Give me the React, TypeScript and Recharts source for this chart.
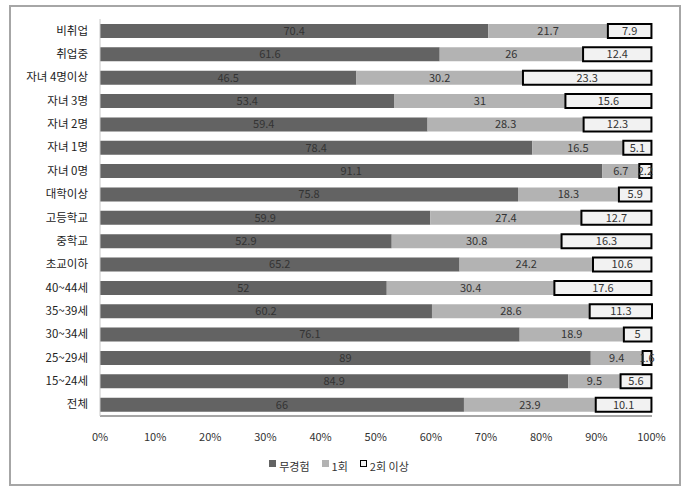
import { BarChart, Bar, XAxis, YAxis, LabelList } from "recharts";

const CATEGORIES = [
    "비취업",
    "취업중",
    "자녀 4명이상",
    "자녀 3명",
    "자녀 2명",
    "자녀 1명",
    "자녀 0명",
    "대학이상",
    "고등학교",
    "중학교",
    "초교이하",
    "40~44세",
    "35~39세",
    "30~34세",
    "25~29세",
    "15~24세",
    "전체",
];

const NONE = [70.4, 61.6, 46.5, 53.4, 59.4, 78.4, 91.1, 75.8, 59.9, 52.9, 65.2, 52, 60.2, 76.1, 89, 84.9, 66];
const ONCE = [21.7, 26, 30.2, 31, 28.3, 16.5, 6.7, 18.3, 27.4, 30.8, 24.2, 30.4, 28.6, 18.9, 9.4, 9.5, 23.9];
const TWICE_PLUS = [7.9, 12.4, 23.3, 15.6, 12.3, 5.1, 2.2, 5.9, 12.7, 16.3, 10.6, 17.6, 11.3, 5, 1.6, 5.6, 10.1];

const TICKS = [0, 10, 20, 30, 40, 50, 60, 70, 80, 90, 100];

const SERIES = [
    { key: "none", name: "무경험", fill: "#636363", stroke: "none" },
    { key: "once", name: "1회", fill: "#b3b3b3", stroke: "none" },
    { key: "twice", name: "2회 이상", fill: "#f2f2f2", stroke: "#000000" },
];

const data = CATEGORIES.map((name, i) => ({
    name,
    none: NONE[i],
    once: ONCE[i],
    twice: TWICE_PLUS[i],
}));

const FONT = "'Noto Sans CJK KR', 'Noto Sans', sans-serif";

// single-line category label (default tick wraps long names)
function CategoryTick(props: any) {
    const { x, y, payload } = props;
    return (
        <text
            x={x}
            y={y}
            dy="0.35em"
            textAnchor="end"
            fill="#222"
            fontSize={11.5}
            fontFamily={FONT}
        >
            {payload.value}
        </text>
    );
}

function LegendBox() {
    return (
        <div
            style={{
                position: "absolute",
                left: 0,
                top: 458,
                width: 690,
                display: "flex",
                justifyContent: "center",
                alignItems: "center",
                fontFamily: FONT,
                fontSize: 11,
                color: "#333",
            }}
        >
            {SERIES.map((s) => (
                <span
                    key={s.key}
                    style={{ display: "flex", alignItems: "center", marginRight: 12 }}
                >
                    <span
                        style={{
                            display: "inline-block",
                            width: s.stroke === "none" ? 7 : 5,
                            height: s.stroke === "none" ? 7 : 5,
                            background: s.fill,
                            border: s.stroke === "none" ? "none" : "1.5px solid #000",
                            marginRight: 3,
                            marginTop: -6,
                        }}
                    />
                    {s.name}
                </span>
            ))}
        </div>
    );
}

export default function App() {
    return (
        <div style={{ position: "absolute", left: 0, top: 0, width: 690, height: 491, background: "#fff" }}>
            <div
                style={{
                    position: "absolute",
                    left: 9,
                    top: 5,
                    width: 668,
                    height: 477,
                    border: "2px solid #a6a6a6",
                    pointerEvents: "none",
                }}
            />
            <BarChart
                width={690}
                height={491}
                data={data}
                layout="vertical"
                margin={{ top: 19, right: 38, bottom: 45, left: 10 }}
                barSize={14}
            >
                <XAxis
                    type="number"
                    domain={[0, 100]}
                    ticks={TICKS}
                    tickFormatter={(v) => `${v}%`}
                    tickLine={false}
                    tickSize={0}
                    tickMargin={17}
                    axisLine={{ stroke: "#a6a6a6", strokeWidth: 2 }}
                    tick={{ fill: "#333", fontSize: 11, fontFamily: FONT }}
                    height={30}
                    interval={0}
                />
                <YAxis
                    type="category"
                    dataKey="name"
                    width={90}
                    tickLine={false}
                    tickSize={0}
                    tickMargin={12}
                    axisLine={{ stroke: "#c8c8c8", strokeWidth: 1 }}
                    tick={<CategoryTick />}
                    interval={0}
                />
                {SERIES.map((s) => (
                    <Bar
                        key={s.key}
                        dataKey={s.key}
                        name={s.name}
                        stackId="a"
                        fill={s.fill}
                        stroke={s.stroke}
                        strokeWidth={s.stroke === "none" ? 0 : 2}
                        isAnimationActive={false}
                    >
                        <LabelList
                            dataKey={s.key}
                            position="center"
                            fill="#333"
                            fontSize={11}
                            fontFamily={FONT}
                        />
                    </Bar>
                ))}
            </BarChart>
            <LegendBox />
        </div>
    );
}
